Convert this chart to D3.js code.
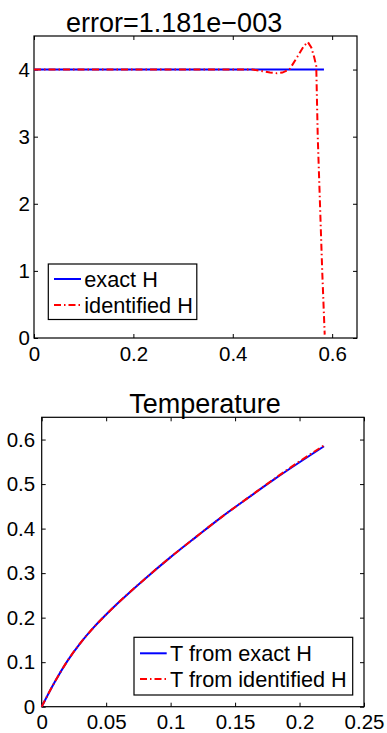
<!DOCTYPE html>
<html>
<head>
<meta charset="utf-8">
<script src="https://cdn.jsdelivr.net/npm/d3@7"></script>
<style>
  body { margin: 0; background: #fff; }
  svg { display: block; font-family: "Liberation Sans", Arial, sans-serif; }
</style>
</head>
<body>
<div id="chart"></div>
<script>
// Top panel data: heat coefficient H
const hExactX = [0, 0.5835];
const hExactY = [4, 4];
const hIdentX = [0, 0.1, 0.2, 0.3, 0.4, 0.44, 0.46, 0.475, 0.489, 0.5, 0.514, 0.53, 0.543, 0.551, 0.558, 0.564, 0.568, 0.571, 0.5755, 0.58, 0.585];
const hIdentY = [4, 4, 4, 4, 4, 4, 3.975, 3.955, 3.945, 3.955, 4.0, 4.19, 4.35, 4.41, 4.33, 4.18, 4.05, 3.0, 2.0, 1.0, 0.05];
const hXTicks = [0, 0.2, 0.4, 0.6];
const hXLabels = ['0', '0.2', '0.4', '0.6'];
const hYTicks = [0, 1, 2, 3, 4];
const hYLabels = ['0', '1', '2', '3', '4'];

// Bottom panel data: temperature
const tX = [0, 0.01, 0.02, 0.03, 0.04, 0.05, 0.06, 0.08, 0.1, 0.12, 0.14, 0.16, 0.18, 0.2, 0.219];
const tExact = [0, 0.055, 0.103, 0.143, 0.177, 0.207, 0.235, 0.287, 0.336, 0.382, 0.427, 0.469, 0.51, 0.549, 0.585];
const tIdent = [0, 0.055, 0.103, 0.143, 0.177, 0.207, 0.235, 0.287, 0.336, 0.382, 0.427, 0.469, 0.511, 0.551, 0.587];
const tXTicks = [0, 0.05, 0.1, 0.15, 0.2, 0.25];
const tXLabels = ['0', '0.05', '0.1', '0.15', '0.2', '0.25'];
const tYTicks = [0, 0.1, 0.2, 0.3, 0.4, 0.5, 0.6];
const tYLabels = ['0', '0.1', '0.2', '0.3', '0.4', '0.5', '0.6'];

const svg = d3.select('#chart')
    .append('svg')
    .attr('width', 387)
    .attr('height', 733);

const DASHDOT = '7,3,1.5,3';

// Draw one MATLAB style axes box
const drawPanel = (cfg) => {
    const g = svg.append('g')
        .attr('transform', `translate(${cfg.left}, ${cfg.top})`);
    const w = cfg.right - cfg.left;
    const h = cfg.bottom - cfg.top;

    const xScale = d3.scaleLinear().domain(cfg.xDomain).range([0, w]);
    const yScale = d3.scaleLinear().domain(cfg.yDomain).range([h, 0]);

    // inward ticks on all four sides
    const xBottom = d3.axisBottom(xScale).tickValues(cfg.xTicks)
        .tickFormat((d, i) => cfg.xLabels[i]).tickSize(-4).tickPadding(cfg.xPad);
    const xTop = d3.axisTop(xScale).tickValues(cfg.xTicks).tickFormat('').tickSize(-4);
    const yLeft = d3.axisLeft(yScale).tickValues(cfg.yTicks)
        .tickFormat((d, i) => cfg.yLabels[i]).tickSize(-4).tickPadding(cfg.yPad);
    const yRight = d3.axisRight(yScale).tickValues(cfg.yTicks).tickFormat('').tickSize(-4);

    g.append('g').attr('transform', `translate(0, ${h})`).call(xBottom);
    g.append('g').call(xTop);
    g.append('g').call(yLeft);
    g.append('g').attr('transform', `translate(${w}, 0)`).call(yRight);

    g.selectAll('.domain').remove();
    g.selectAll('.tick line').attr('stroke', '#000');
    g.selectAll('.tick text')
        .attr('fill', '#000')
        .style('font-size', '20.5px')
        .style('font-family', '"Liberation Sans", Arial, sans-serif');

    // axes box
    g.append('rect')
        .attr('width', w)
        .attr('height', h)
        .attr('fill', 'none')
        .attr('stroke', '#000')
        .attr('stroke-width', 1.2);

    const line = d3.line()
        .x(d => xScale(d[0]))
        .y(d => yScale(d[1]))
        .curve(cfg.curve);

    // exact (blue) then identified (red) on top
    g.append('path')
        .datum(d3.zip(cfg.x1, cfg.y1))
        .attr('d', line)
        .attr('fill', 'none')
        .attr('stroke', '#0000ff')
        .attr('stroke-width', 2);
    g.append('path')
        .datum(d3.zip(cfg.x2, cfg.y2))
        .attr('d', line)
        .attr('fill', 'none')
        .attr('stroke', '#ff0000')
        .attr('stroke-width', 2)
        .attr('stroke-dasharray', DASHDOT);

    // title
    svg.append('text')
        .attr('x', cfg.titleX)
        .attr('y', cfg.titleY)
        .attr('text-anchor', cfg.titleAnchor)
        .style('font-size', '27px')
        .text(cfg.title);

    // legend
    const lg = svg.append('g');
    lg.append('rect')
        .attr('x', cfg.legend.x)
        .attr('y', cfg.legend.y)
        .attr('width', cfg.legend.w)
        .attr('height', cfg.legend.h)
        .attr('fill', '#fff')
        .attr('stroke', '#000')
        .attr('stroke-width', 1.2);
    cfg.legend.labels.forEach((lab, i) => {
        const yy = cfg.legend.rows[i];
        lg.append('line')
            .attr('x1', cfg.legend.x1)
            .attr('x2', cfg.legend.x2)
            .attr('y1', yy)
            .attr('y2', yy)
            .attr('stroke', i === 0 ? '#0000ff' : '#ff0000')
            .attr('stroke-width', 2)
            .attr('stroke-dasharray', i === 0 ? null : DASHDOT);
        lg.append('text')
            .attr('x', cfg.legend.tx)
            .attr('y', yy)
            .attr('dy', '0.35em')
            .style('font-size', '21.7px')
            .text(lab);
    });
};

drawPanel({
    left: 34, right: 357, top: 36, bottom: 338,
    xDomain: [0, 0.65], yDomain: [0, 4.5],
    xTicks: hXTicks, xLabels: hXLabels, yTicks: hYTicks, yLabels: hYLabels,
    xPad: 8, yPad: 4, curve: d3.curveLinear,
    x1: hExactX, y1: hExactY, x2: hIdentX, y2: hIdentY,
    title: 'error=1.181e\u2212003', titleX: 66, titleY: 31.5, titleAnchor: 'start',
    legend: { x: 48.3, y: 264, w: 148.5, h: 55.5, x1: 54, x2: 81, tx: 84.3,
              rows: [279, 305], labels: ['exact H', 'identified H'] }
});

drawPanel({
    left: 41.7, right: 364, top: 417.3, bottom: 706.7,
    xDomain: [0, 0.25], yDomain: [0, 0.65],
    xTicks: tXTicks, xLabels: tXLabels, yTicks: tYTicks, yLabels: tYLabels,
    xPad: 7.5, yPad: 6.5, curve: d3.curveMonotoneX,
    x1: tX, y1: tExact, x2: tX, y2: tIdent,
    title: 'Temperature', titleX: 205, titleY: 412.5, titleAnchor: 'middle',
    legend: { x: 134, y: 637.3, w: 218.7, h: 57.7, x1: 140, x2: 166.7, tx: 170,
              rows: [653.3, 679], labels: ['T from exact H', 'T from identified H'] }
});
</script>
</body>
</html>
